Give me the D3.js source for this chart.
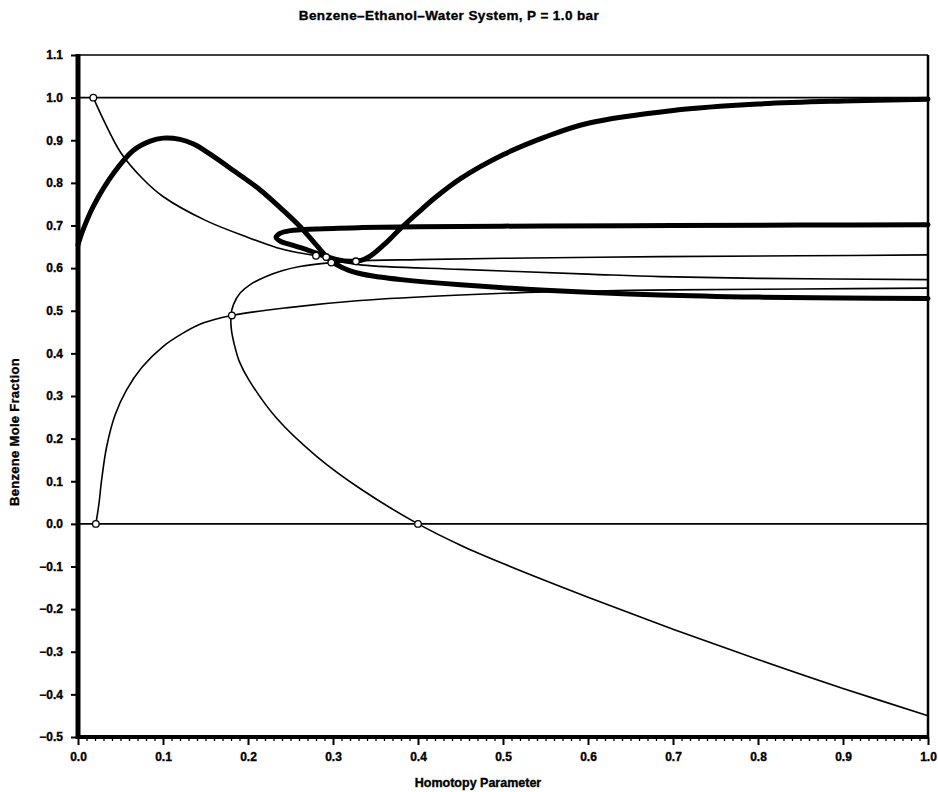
<!DOCTYPE html>
<html>
<head>
<meta charset="utf-8">
<script src="https://cdn.jsdelivr.net/npm/d3@7"></script>
<style>
  html, body { margin: 0; padding: 0; background: #fff; }
  svg { display: block; }
  text { font-family: "Liberation Sans", Arial, Helvetica, sans-serif; font-weight: bold; fill: #000;
         stroke: #000; stroke-width: 0.35px; }
</style>
</head>
<body>
<svg id="chart" width="938" height="792"></svg>
<script>
// Homotopy continuation paths, benzene–ethanol–water at 1.0 bar.
// Each path is a list of [homotopy parameter, benzene mole fraction].

const xTicks = [0, 0.1, 0.2, 0.3, 0.4, 0.5, 0.6, 0.7, 0.8, 0.9, 1.0];
const yTicks = [-0.5, -0.4, -0.3, -0.2, -0.1, 0, 0.1, 0.2, 0.3, 0.4, 0.5, 0.6, 0.7, 0.8, 0.9, 1.0, 1.1];

// trivial branches (pure-component levels)
const flatBranches = [1.0, 0.0];

// thin branches
const branchA = [[0.018,1.0],[0.03,0.948],[0.05,0.872],[0.075,0.812],[0.1,0.768],[0.15,0.712],
  [0.2,0.672],[0.234,0.648],[0.26,0.636],[0.28,0.629],[0.292,0.624],[0.31,0.615],[0.335,0.607],
  [0.45,0.597],[0.6,0.586],[0.685,0.580],[0.8,0.576],[1.0,0.573]];

const branchD = [[0.021,0],[0.0245,0.045],[0.0278,0.103],[0.0337,0.181],[0.0435,0.255],
  [0.057,0.314],[0.075,0.367],[0.1,0.416],[0.124,0.448],[0.147,0.471],[0.181,0.489],[0.25,0.508],
  [0.332,0.524],[0.45,0.537],[0.55,0.544],[0.7,0.549],[0.85,0.551],[1.0,0.553]];

const branchE = [[1.0,-0.45],[0.9,-0.386],[0.8,-0.318],[0.7,-0.247],[0.6,-0.172],[0.5,-0.093],
  [0.45,-0.05],[0.4,0],[0.334,0.08],[0.281,0.158],[0.234,0.247],[0.201,0.338],[0.19,0.38],
  [0.184,0.42],[0.1805,0.455],[0.18,0.49],[0.183,0.515],[0.191,0.542],[0.203,0.562],[0.222,0.581],
  [0.24,0.594],[0.261,0.604],[0.298,0.613],[0.327,0.617],[0.4,0.62],[0.5,0.623],[0.685,0.627],
  [0.85,0.629],[1.0,0.631]];

// thick tracked paths
const path1 = [[0,0.655],[0.005,0.685],[0.018,0.745],[0.042,0.823],[0.065,0.876],[0.085,0.898],
  [0.1,0.905],[0.12,0.902],[0.136,0.891],[0.155,0.868],[0.185,0.826],[0.214,0.784],[0.24,0.738],
  [0.262,0.696],[0.28,0.655],[0.295,0.622],[0.31,0.602],[0.33,0.588],[0.355,0.579],[0.38,0.573],
  [0.45,0.561],[0.55,0.548],[0.685,0.537],[0.8,0.532],[0.9,0.53],[1.0,0.529]];

const path2 = [[1.0,0.702],[0.85,0.701],[0.7,0.7],[0.55,0.699],[0.4,0.697],[0.33,0.695],
  [0.28,0.692],[0.25,0.688],[0.237,0.681],[0.233,0.672],[0.238,0.663],[0.25,0.655],[0.268,0.644],
  [0.288,0.63],[0.305,0.62],[0.32,0.616],[0.333,0.618],[0.345,0.63],[0.36,0.655],[0.378,0.69],
  [0.4,0.73],[0.42,0.765],[0.45,0.81],[0.5,0.866],[0.55,0.908],[0.6,0.94],[0.7,0.97],
  [0.8,0.985],[0.9,0.992],[1.0,0.996]];

// bifurcation points
const bifurcations = [[0.018,1.0],[0.021,0],[0.181,0.489],[0.40,0],[0.28,0.629],[0.292,0.626],
  [0.298,0.613],[0.327,0.616]];

const svg = d3.select("#chart");
const W = 938, H = 792;
const margin = { top: 55, right: 10, bottom: 55, left: 78 };

const x = d3.scaleLinear().domain([0, 1]).range([margin.left, W - margin.right]);
const y = d3.scaleLinear().domain([-0.5, 1.1]).range([H - margin.bottom, margin.top]);

// title
svg.append("text").attr("x", 449).attr("y", 20).attr("text-anchor", "middle")
  .style("font-size", "13.5px").style("letter-spacing", "0.4px")
  .text("Benzene\u2013Ethanol\u2013Water System, P = 1.0 bar");

// frame: thin top and right
svg.append("line").attr("x1", x(0)).attr("x2", x(1)).attr("y1", y(1.1)).attr("y2", y(1.1))
  .attr("stroke", "#000").attr("stroke-width", 1.5);
svg.append("line").attr("x1", x(1)).attr("x2", x(1)).attr("y1", y(1.1)).attr("y2", y(-0.5))
  .attr("stroke", "#000").attr("stroke-width", 2.5);

const line = d3.line().x(d => x(d[0])).y(d => y(d[1])).curve(d3.curveCatmullRom.alpha(0.5));

const plot = svg.append("g");

// flat branches
plot.selectAll(".flat").data(flatBranches).join("line").attr("class", "flat")
  .attr("x1", x(0)).attr("x2", x(1)).attr("y1", d => y(d)).attr("y2", d => y(d))
  .attr("stroke", "#000").attr("stroke-width", 1.6);

// thin branches
plot.selectAll(".thin").data([branchA, branchD, branchE]).join("path").attr("class", "thin")
  .attr("d", line).attr("fill", "none").attr("stroke", "#000").attr("stroke-width", 1.6);

// thick paths
plot.selectAll(".thick").data([path1, path2]).join("path").attr("class", "thick")
  .attr("d", line).attr("fill", "none").attr("stroke", "#000").attr("stroke-width", 5)
  .attr("stroke-linecap", "round").attr("stroke-linejoin", "round");

// bifurcation markers
plot.selectAll(".pt").data(bifurcations).join("circle").attr("class", "pt")
  .attr("cx", d => x(d[0])).attr("cy", d => y(d[1])).attr("r", 3.3)
  .attr("fill", "#fff").attr("stroke", "#000").attr("stroke-width", 1.3);

// y axis
const yAxis = svg.append("g").attr("transform", `translate(${x(0)},0)`)
  .call(d3.axisLeft(y).tickValues(yTicks).tickFormat(d3.format(".1f")).tickSize(7).tickPadding(8));
yAxis.select(".domain").remove();
yAxis.selectAll(".tick line").attr("stroke-width", 2);
yAxis.selectAll("text").style("font-size", "12px").text(d => d3.format(".1f")(d).replace("-", "\u2212"));
svg.append("line").attr("x1", x(0)).attr("x2", x(0)).attr("y1", y(1.1) - 1).attr("y2", y(-0.5) + 2)
  .attr("stroke", "#000").attr("stroke-width", 5);

// x axis: major and minor ticks
const minorTicks = d3.range(0, 101).map(i => i / 100).filter(v => Math.round(v * 100) % 10 !== 0);
const xMinor = svg.append("g").attr("transform", `translate(0,${y(-0.5)})`)
  .call(d3.axisBottom(x).tickValues(minorTicks).tickSize(4).tickFormat(""));
xMinor.select(".domain").remove();
xMinor.selectAll(".tick line").attr("stroke-width", 1.3);

const xAxis = svg.append("g").attr("transform", `translate(0,${y(-0.5)})`)
  .call(d3.axisBottom(x).tickValues(xTicks).tickFormat(d3.format(".1f")).tickSize(8).tickPadding(7));
xAxis.select(".domain").remove();
xAxis.selectAll(".tick line").attr("stroke-width", 2);
xAxis.selectAll("text").style("font-size", "12px");
svg.append("line").attr("x1", x(0) - 2).attr("x2", x(1)).attr("y1", y(-0.5)).attr("y2", y(-0.5))
  .attr("stroke", "#000").attr("stroke-width", 4);

// axis titles
svg.append("text").attr("x", 478).attr("y", 787).attr("text-anchor", "middle")
  .style("font-size", "12.5px").text("Homotopy Parameter");
svg.append("text").attr("transform", `translate(19,432) rotate(-90)`).attr("text-anchor", "middle")
  .style("font-size", "13px").style("letter-spacing", "0.3px").text("Benzene Mole Fraction");
</script>
</body>
</html>
